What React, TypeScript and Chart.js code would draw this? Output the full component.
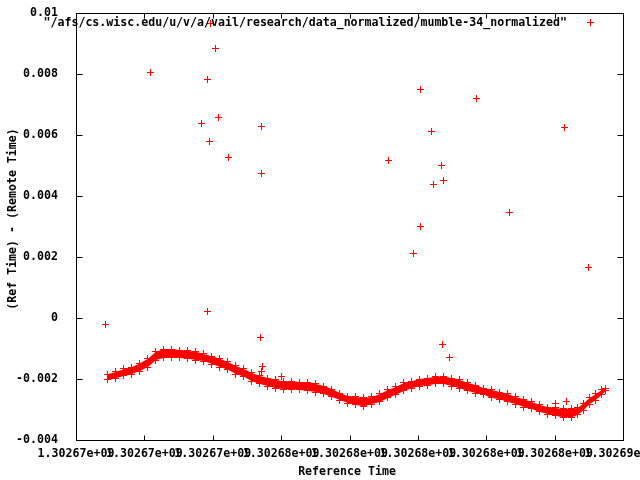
import React, { useEffect, useRef } from "react";
import { Chart, registerables } from "chart.js";

Chart.register(...registerables);

const RED = "#ff0000";
const FONT_FAMILY = '"DejaVu Sans Mono", "Liberation Mono", monospace';
const FONT_SIZE = 11.6;

const seriesLabel = '"/afs/cs.wisc.edu/u/v/a/vail/research/data_normalized/mumble-34_normalized"';
const xTitle = "Reference Time";
const yTitle = "(Ref Time) - (Remote Time)";

const xMin = 1302670000;
const xMax = 1302686000;
const xStep = 2000;
const yMin = -0.004;
const yMax = 0.01;
const yStep = 0.002;

// dense band: upper and lower envelope of the bulk of the samples
const bandTime = [
  1302670936, 1302671170, 1302671404, 1302671637, 1302671871, 1302672105, 1302672339, 1302672573, 1302672807,
  1302673041, 1302673275, 1302673509, 1302673743, 1302673977, 1302674211, 1302674444, 1302674678, 1302674912,
  1302675146, 1302675380, 1302675614, 1302675848, 1302676082, 1302676316, 1302676550, 1302676784, 1302677018,
  1302677252, 1302677485, 1302677719, 1302677953, 1302678187, 1302678421, 1302678655, 1302678889, 1302679123,
  1302679357, 1302679591, 1302679825, 1302680059, 1302680292, 1302680526, 1302680760, 1302680994, 1302681228,
  1302681462, 1302681696, 1302681930, 1302682164, 1302682398, 1302682632, 1302682866, 1302683100, 1302683333,
  1302683567, 1302683801, 1302684035, 1302684269, 1302684503,
  1302684678, 1302684854, 1302685029, 1302685205, 1302685380, 1302685497,
];
const bandUpper = [
  -0.00184, -0.00177, -0.00167, -0.00161, -0.00148, -0.00134, -0.00111, -0.00102, -0.00102,
  -0.00105, -0.00108, -0.00111, -0.00118, -0.00125, -0.00134, -0.00144, -0.00157, -0.00167,
  -0.0018, -0.0019, -0.00197, -0.00203, -0.00207, -0.00207, -0.0021, -0.0021, -0.00216,
  -0.00223, -0.00233, -0.00246, -0.00256, -0.00259, -0.00262, -0.00259, -0.00249, -0.00236,
  -0.00226, -0.00213, -0.00207, -0.002, -0.00197, -0.00193, -0.00193, -0.00197, -0.00203,
  -0.00213, -0.0022, -0.0023, -0.00236, -0.00243, -0.00249, -0.00259, -0.00266, -0.00275,
  -0.00285, -0.00292, -0.00295, -0.00298, -0.00298,
  -0.00295, -0.00279, -0.00262, -0.00249, -0.00236, -0.0023,
];
const bandLower = [
  -0.00203, -0.00197, -0.0019, -0.00184, -0.00174, -0.00161, -0.00138, -0.00131, -0.00131,
  -0.00131, -0.00134, -0.00138, -0.00141, -0.00151, -0.00161, -0.0017, -0.00184, -0.00193,
  -0.00207, -0.00216, -0.00223, -0.0023, -0.00233, -0.00233, -0.00236, -0.00239, -0.00243,
  -0.00249, -0.00259, -0.00269, -0.00279, -0.00285, -0.00289, -0.00282, -0.00275, -0.00262,
  -0.00252, -0.00239, -0.0023, -0.00223, -0.0022, -0.00216, -0.00216, -0.00223, -0.0023,
  -0.00239, -0.00246, -0.00252, -0.00262, -0.00266, -0.00275, -0.00282, -0.00292, -0.00298,
  -0.00308, -0.00315, -0.00321, -0.00325, -0.00325,
  -0.00318, -0.00302, -0.00282, -0.00269, -0.00252, -0.00239,
];

// isolated samples away from the band
const outlierTime = [
  1302670877, 1302672193, 1302673947, 1302674094, 1302673860, 1302674181, 1302673684, 1302673918,
  1302674474, 1302675439, 1302675439, 1302673860, 1302675409, 1302675468, 1302675439, 1302676023,
  1302679152, 1302680088, 1302680409, 1302680702, 1302680760, 1302680468, 1302680088, 1302679883,
  1302680731, 1302680936, 1302681725, 1302682690, 1302684298, 1302684035, 1302684357, 1302685000,
];
const outlierValue = [
  -0.000197, 0.008033, 0.00967, 0.008852, 0.007836, 0.00659, 0.006393, 0.005803,
  0.005246, 0.006295, 0.004754, 0.000197, -0.000623, -0.001574, -0.00177, -0.001934,
  0.00518, 0.007508, 0.006131, 0.004984, 0.004492, 0.004361, 0.002984, 0.002131,
  -0.000885, -0.001279, 0.007213, 0.003443, 0.006262, -0.002787, -0.002754, 0.001672,
];

const X_TICK_LEN = 5;
const Y_TICK_LEN = 6;

function fmtX(v: number): string {
  const s = Number(v).toPrecision(6);
  return s.replace(/e\+(\d)$/, "e+0$1");
}
function fmtY(v: number): string {
  return String(Number(Number(v).toFixed(4)));
}

const font = () => `bold ${FONT_SIZE}px ${FONT_FAMILY}`;

function makeCross(): HTMLCanvasElement {
  const c = document.createElement("canvas");
  c.width = 7;
  c.height = 7;
  const g = c.getContext("2d")!;
  g.fillStyle = RED;
  g.fillRect(0, 3, 7, 1);
  g.fillRect(3, 0, 1, 7);
  return c;
}

const gnuplotFrame = {
  id: "gnuplotFrame",
  beforeDraw(chart: any) {
    chart.ctx.imageSmoothingEnabled = false;
  },
  afterDraw(chart: any) {
    const { ctx, chartArea: a, scales } = chart;
    const L = Math.round(a.left) + 0.5;
    const R = Math.round(a.right) + 0.5;
    const T = Math.round(a.top) + 0.5;
    const B = Math.round(a.bottom) + 0.5;
    ctx.save();
    ctx.strokeStyle = "#000";
    ctx.lineWidth = 1;
    ctx.beginPath();
    ctx.rect(L, T, R - L, B - T);
    for (const t of scales.x.ticks) {
      const px = Math.round(scales.x.getPixelForValue(t.value)) + 0.5;
      ctx.moveTo(px, B);
      ctx.lineTo(px, B - X_TICK_LEN);
      ctx.moveTo(px, T);
      ctx.lineTo(px, T + X_TICK_LEN);
    }
    for (const t of scales.y.ticks) {
      const py = Math.round(scales.y.getPixelForValue(t.value)) + 0.5;
      ctx.moveTo(L, py);
      ctx.lineTo(L + Y_TICK_LEN, py);
      ctx.moveTo(R, py);
      ctx.lineTo(R - Y_TICK_LEN, py);
    }
    ctx.stroke();

    // key (top right, inside)
    ctx.font = font();
    ctx.fillStyle = "#000";
    ctx.textAlign = "right";
    ctx.textBaseline = "middle";
    ctx.fillText(seriesLabel, 567, 23);
    ctx.fillStyle = RED;
    ctx.fillRect(587, 22, 7, 1);
    ctx.fillRect(590, 19, 1, 7);

    // axis titles
    ctx.fillStyle = "#000";
    ctx.textAlign = "center";
    ctx.textBaseline = "middle";
    ctx.fillText(xTitle, 347, 472);
    ctx.save();
    ctx.translate(13, 219);
    ctx.rotate(-Math.PI / 2);
    ctx.fillText(yTitle, 0, 0);
    ctx.restore();
    ctx.restore();
  },
};

export default function App() {
  const canvasRef = useRef<HTMLCanvasElement | null>(null);

  useEffect(() => {
    const canvas = canvasRef.current;
    if (!canvas) return;

    const cross = makeCross();
    const upper = bandTime.map((t, i) => ({ x: t, y: bandUpper[i] }));
    const lower = bandTime.map((t, i) => ({ x: t, y: bandLower[i] }));
    const outliers = outlierTime.map((t, i) => ({ x: t, y: outlierValue[i] }));

    const pointCommon = {
      pointStyle: cross,
      pointRadius: 3.5,
      pointBorderWidth: 1,
      pointBorderColor: RED,
      pointBackgroundColor: RED,
      pointHoverRadius: 3.5,
    };

    const chart = new Chart(canvas, {
      type: "line",
      data: {
        datasets: [
          {
            label: "band upper",
            data: upper,
            showLine: true,
            borderColor: "rgba(0,0,0,0)",
            borderWidth: 1,
            fill: false,
            ...pointCommon,
          } as any,
          {
            label: "band lower",
            data: lower,
            showLine: true,
            borderColor: "rgba(0,0,0,0)",
            borderWidth: 1,
            backgroundColor: RED,
            fill: "-1",
            ...pointCommon,
          } as any,
          {
            label: seriesLabel,
            data: outliers,
            showLine: false,
            fill: false,
            ...pointCommon,
          } as any,
        ],
      },
      options: {
        responsive: false,
        animation: false,
        devicePixelRatio: 1,
        layout: { padding: { top: 13, right: 17, left: 0, bottom: 0 } },
        plugins: {
          legend: { display: false },
          tooltip: { enabled: false },
          filler: { propagate: false },
        },
        scales: {
          x: {
            type: "linear",
            min: xMin,
            max: xMax,
            grid: { display: false, drawTicks: false },
            border: { display: false },
            ticks: {
              stepSize: xStep,
              autoSkip: false,
              maxRotation: 0,
              minRotation: 0,
              padding: 7,
              color: "#000",
              font: { family: FONT_FAMILY, size: FONT_SIZE, weight: "bold" },
              callback: (v: any) => fmtX(v),
            },
            afterFit: (s: any) => {
              s.height = 40;
              s.paddingLeft = 0;
              s.paddingRight = 0;
            },
          },
          y: {
            type: "linear",
            min: yMin,
            max: yMax,
            grid: { display: false, drawTicks: false },
            border: { display: false },
            ticks: {
              stepSize: yStep,
              padding: 18,
              color: "#000",
              font: { family: FONT_FAMILY, size: FONT_SIZE, weight: "bold" },
              callback: (v: any) => fmtY(v),
            },
            afterFit: (s: any) => {
              s.width = 76;
              s.paddingTop = 0;
              s.paddingBottom = 0;
            },
          },
        },
      } as any,
      plugins: [gnuplotFrame],
    });

    return () => chart.destroy();
  }, []);

  return (
    <div style={{ position: "fixed", left: 0, top: 0, width: 640, height: 480, background: "#fff" }}>
      <canvas ref={canvasRef} width={640} height={480} style={{ display: "block" }} />
    </div>
  );
}
